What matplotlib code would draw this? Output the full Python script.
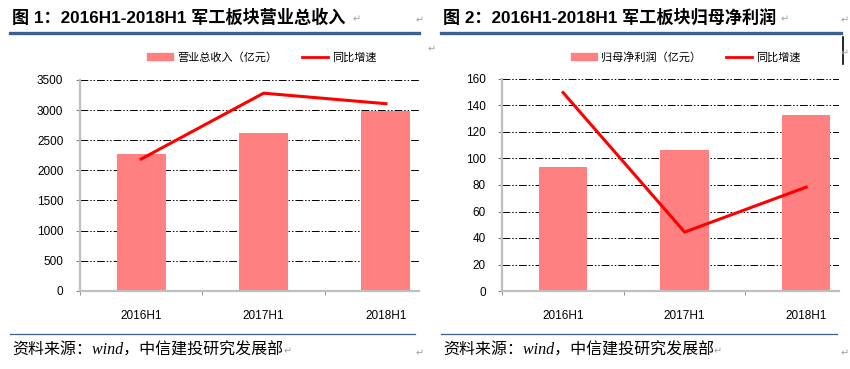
import numpy as np
import matplotlib
matplotlib.use("Agg")
import matplotlib.pyplot as plt
from matplotlib.lines import Line2D
from matplotlib.patches import Patch

plt.rcParams['font.family'] = ['Liberation Sans', 'Noto Sans CJK SC', 'DejaVu Sans']

# data
periods = ["2016H1", "2017H1", "2018H1"]
revenue = [2273, 2623, 2990]          # 营业总收入（亿元）
revenue_growth = [10.0, 15.0, 14.2]   # 同比增速（%）
profit = [93.4, 106.4, 132.8]         # 归母净利润（亿元）
profit_growth = [46.8, 13.9, 24.5]    # 同比增速（%）

titles = ["图 1：2016H1-2018H1 军工板块营业总收入",
          "图 2：2016H1-2018H1 军工板块归母净利润"]
bar_labels = ["营业总收入（亿元）", "归母净利润（亿元）"]
line_label = "同比增速"
source = "资料来源：wind，中信建投研究发展部"

BAR_COLOR = "#FF8080"
LINE_COLOR = "#FF0000"
RULE_COLOR = "#3A6090"
SPINE_COLOR = "#BFBFBF"
W, H = 850, 369


def fx(px):
    return px / W


def fy(py):
    return 1 - py / H


fig = plt.figure(figsize=(8.5, 3.69), dpi=100)


def draw_panel(rect, bars, growth, ylim, yticks, glim, bar_label, legend_x):
    ax = fig.add_axes(rect)
    x = np.arange(len(periods))
    ax.bar(x, bars, width=0.4, color=BAR_COLOR, zorder=2)
    ax.set_xlim(-0.5, 2.27)
    ax.set_ylim(*ylim)
    ax.set_yticks(yticks)
    ax.yaxis.grid(True, color="black", linewidth=0.7,
                  linestyle=(0, (8, 2, 1.5, 2, 1.5, 2)), zorder=0)
    ax.set_axisbelow(True)
    for s in ["top", "right"]:
        ax.spines[s].set_visible(False)
    for s in ["left", "bottom"]:
        ax.spines[s].set_color(SPINE_COLOR)
        ax.spines[s].set_linewidth(1.6)
    ax.set_xticks(x)
    ax.set_xticklabels(periods, fontsize=8.5)
    ax.tick_params(axis="x", which="major", length=0, pad=14)
    ax.set_xticks([-0.5, 0.5, 1.5], minor=True)
    ax.tick_params(axis="x", which="minor", length=3, color="#808080")
    ax.tick_params(axis="y", length=3, color="#808080", labelsize=8.5, pad=9)

    ax2 = ax.twinx()
    ax2.plot(x, growth, color=LINE_COLOR, linewidth=2.2, zorder=3)
    ax2.set_ylim(*glim)
    ax2.set_xlim(-0.5, 2.27)
    ax2.axis("off")

    handles = [Patch(color=BAR_COLOR), Line2D([], [], color=LINE_COLOR, linewidth=2)]
    fig.legend(handles, [bar_label, line_label], loc="center",
               bbox_to_anchor=(fx(legend_x), fy(57)), ncol=2, frameon=False,
               handlelength=2.3, handleheight=0.5,
               handletextpad=0.4, columnspacing=2.2,
               prop={"family": ["Noto Sans CJK SC"], "size": 8})
    return ax


draw_panel([fx(80), fy(290.7), fx(339), 210.7 / H], revenue, revenue_growth,
           (0, 3500), np.arange(0, 3501, 500), (0, 16), bar_labels[0], 262)
draw_panel([fx(502.3), fy(291), fx(336.7), 212 / H], profit, profit_growth,
           (0, 160), np.arange(0, 161, 20), (0, 50), bar_labels[1], 686)

# titles and rules
for left, right, title in [(10, 419, titles[0]), (441, 841, titles[1])]:
    fig.text(fx(left + 2), fy(17), title, fontsize=12.3, fontweight="bold",
             va="center", ha="left",
             family=["Liberation Sans", "Noto Sans CJK SC"])
    fig.add_artist(Line2D([fx(left), fx(right)], [fy(33), fy(33)],
                          color=RULE_COLOR, linewidth=2.4))
    fig.add_artist(Line2D([fx(left), fx(right - 4)], [fy(334), fy(334)],
                          color=RULE_COLOR, linewidth=0.9))
    fig.text(fx(left + 2), fy(351), source, fontsize=11.5, style="italic",
             va="center", ha="left",
             family=["Liberation Serif", "Noto Sans CJK SC"])

# word paragraph marks
marks = [(357, 19), (420, 20), (432, 49), (785, 19), (845, 20), (845, 53),
         (288, 351), (420, 353), (718, 351), (845, 353)]
for mx, my in marks:
    fig.text(fx(mx), fy(my), "↵", fontsize=7, color="#A0A0A0",
             ha="center", va="center", family=["DejaVu Sans"])
fig.add_artist(Line2D([fx(843), fx(843)], [fy(37), fy(64)], color="black",
                      linewidth=1.2))

fig.savefig("out.png", dpi=100)
